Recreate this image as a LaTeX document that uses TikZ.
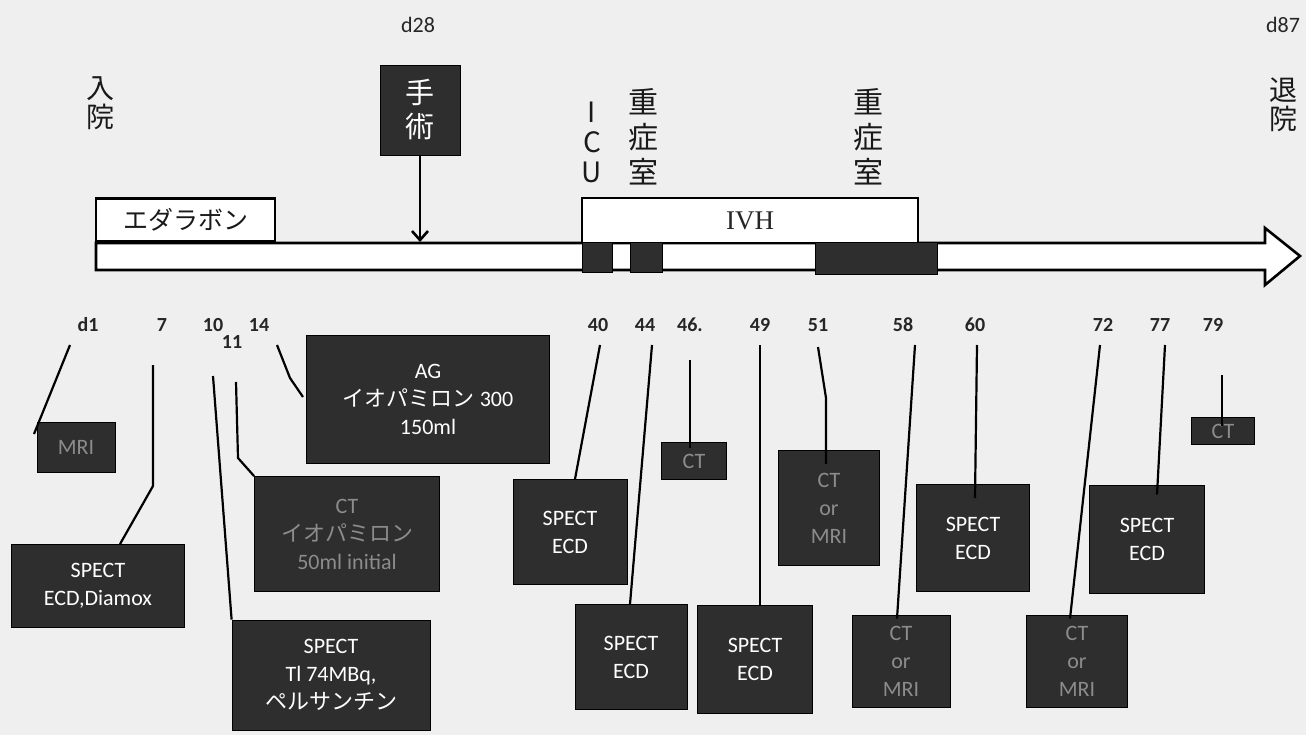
\documentclass[tikz,border=0pt]{standalone}
\usepackage{fontspec}
\setmainfont{Carlito}
\newfontfamily\jp{Noto Sans CJK JP}
\newfontfamily\srf{Liberation Serif}
\usetikzlibrary{arrows.meta}
\definecolor{bg}{HTML}{EFEFEF}
\definecolor{boxgray}{HTML}{2E2E2E}
\definecolor{faint}{HTML}{8C8C8C}
\begin{document}
\begin{tikzpicture}[x=1pt,y=-1pt,
  dbox/.style={draw=black,line width=0.8pt,fill=boxgray,text=white,inner sep=0pt,align=center,font=\fontsize{22}{28}\selectfont},
  fbox/.style={dbox,text=faint},
  day/.style={font=\fontsize{20}{20}\selectfont\bfseries,text=black!85,inner sep=0pt},
  vlab/.style={font=\jp\fontsize{30}{35}\selectfont,text=black!90,align=center,inner sep=0pt},
  conn/.style={draw=black,line width=2.2pt},
  bar/.style={fill=boxgray,draw=black,line width=1pt}]
\useasboundingbox (0,0) rectangle (1306,735);
\fill[bg] (0,0) rectangle (1306,735);

% top labels
\node[vlab,font=\jp\fontsize{28}{29}\selectfont] (nyuin) at (100,103) {入\\院};
\node[font=\fontsize{22}{22}\selectfont,text=black!85,inner sep=0pt] (d28) at (418,25) {d28};
\node[dbox,minimum width=80,minimum height=90,font=\jp\fontsize{29}{34}\selectfont] (surg) at (420,110) {手\\術};
\node[font=\fontsize{22}{22}\selectfont,text=black!85,inner sep=0pt] (d87) at (1283,25) {d87};
\node[vlab,font=\jp\fontsize{28}{29}\selectfont] (taiin) at (1283,105) {退\\院};
\node[font=\jp\fontsize{28}{30}\selectfont,text=black!90,align=center,inner sep=0pt] (icu) at (592,142) {I\\C\\U};
\node[vlab] (jusho1) at (643,137) {重\\症\\室};
\node[vlab] (jusho2) at (868,137) {重\\症\\室};

% timeline arrow
\draw[line width=2.6pt,fill=white,line join=miter] (96,243) -- (1265,243) -- (1265,228) -- (1300,256) -- (1265,285) -- (1265,270) -- (96,270) -- cycle;
\node[draw=black,line width=2.4pt,fill=white,minimum width=179,minimum height=43,inner sep=0pt,font=\jp\fontsize{25}{26}\selectfont,text=black!90] (edara) at (185.5,220) {エダラボン};
\node[draw=black,line width=2.2pt,fill=white,minimum width=336,minimum height=45,inner sep=0pt,font=\srf\fontsize{27}{28}\selectfont,text=black!85] (ivh) at (750,220.5) {IVH};
\fill[bar] (582,243) rectangle (612,273);
\fill[bar] (630,243) rectangle (662,273);
\fill[bar] (815,243) rectangle (937,275);
\coordinate (surgtip) at (420,242);
\draw[line width=2.6pt,-{Straight Barb[length=9pt,width=16pt,line width=2.6pt]}] (surg.south) -- (surgtip);

% day labels
\node[day] (t1) at (88,325) {d1};
\node[day] (t7) at (162,325) {7};
\node[day] (t10) at (213,325) {10};
\node[day] (t14) at (259,325) {14};
\node[day] (t11) at (232,342) {11};
\node[day] (t40) at (598,325) {40};
\node[day] (t44) at (645,325) {44};
\node[day] (t46) at (690,325) {46.};
\node[day] (t49) at (760,325) {49};
\node[day] (t51) at (818,325) {51};
\node[day] (t58) at (903,325) {58};
\node[day] (t60) at (975,325) {60};
\node[day] (t72) at (1103,325) {72};
\node[day] (t77) at (1160,325) {77};
\node[day] (t79) at (1213,325) {79};

% boxes
\node[fbox,minimum width=78,minimum height=50] (b1) at (76,447) {MRI};
\node[dbox,minimum width=173,minimum height=83] (b7) at (98,586) {SPECT\\ECD,Diamox};
\node[fbox,minimum width=185,minimum height=115] (b11) at (347,534) {CT\\{\jp イオパミロン}\\50ml initial};
\node[dbox,minimum width=198,minimum height=110] (b10) at (331,675) {SPECT\\Tl 74MBq,\\{\jp ペルサンチン}};
\node[dbox,minimum width=243,minimum height=128] (b14) at (428,399) {AG\\{\jp イオパミロン} 300\\150ml};
\node[dbox,minimum width=114,minimum height=105] (b40) at (570,532) {SPECT\\ECD};
\node[dbox,minimum width=112,minimum height=105] (b44) at (631,657) {SPECT\\ECD};
\node[fbox,minimum width=65,minimum height=37] (b46) at (694,461) {CT};
\node[dbox,minimum width=115,minimum height=108] (b49) at (755,659) {SPECT\\ECD};
\node[fbox,minimum width=101,minimum height=115] (b51) at (829,508) {CT\\or\\MRI};
\node[fbox,minimum width=98,minimum height=92] (b58) at (901,661) {CT\\or\\MRI};
\node[dbox,minimum width=113,minimum height=107] (b60) at (973,538) {SPECT\\ECD};
\node[fbox,minimum width=101,minimum height=92] (b72) at (1077,661) {CT\\or\\MRI};
\node[dbox,minimum width=115,minimum height=108] (b77) at (1147,539) {SPECT\\ECD};
\node[fbox,minimum width=63,minimum height=27] (b79) at (1223,431) {CT};

% connectors
\coordinate (s1) at (70,345); \coordinate (e1) at (34,434);
\draw[conn] (s1) -- (e1);
\coordinate (s7) at (153,365); \coordinate (m7) at (153,486);
\draw[conn] (s7) -- (m7) -- (b7.north -| 120,0);
\coordinate (s10) at (213,376);
\draw[conn] (s10) -- (b10.north west);
\coordinate (s11) at (236,382); \coordinate (m11) at (238,458);
\draw[conn] (s11) -- (m11) -- (b11.north west);
\coordinate (s14) at (277,345); \coordinate (m14) at (290,378); \coordinate (e14) at (303,397);
\draw[conn] (s14) -- (m14) -- (e14);
\coordinate (s40) at (600,345);
\draw[conn] (s40) -- (b40.north -| 575,0);
\coordinate (s44) at (652,345);
\draw[conn] (s44) -- (b44.north -| 630,0);
\coordinate (s46) at (690,360);
\draw[conn] (s46) -- ([yshift=-6pt]b46.north -| 690,0);
\coordinate (s49) at (760,345);
\draw[conn] (s49) -- (b49.north -| 760,0);
\coordinate (s51) at (818,347); \coordinate (m51) at (826,398);
\draw[conn] (s51) -- (m51) -- ([yshift=-14pt]b51.north -| 826,0);
\coordinate (s58) at (915,345);
\draw[conn] (s58) -- ([yshift=-4pt]b58.north -| 897,0);
\coordinate (s60) at (977,345);
\draw[conn] (s60) -- ([yshift=-14pt]b60.north -| 975,0);
\coordinate (s72) at (1100,345);
\draw[conn] (s72) -- ([yshift=-4pt]b72.north -| 1070,0);
\coordinate (s77) at (1165,345);
\draw[conn] (s77) -- ([yshift=-10pt]b77.north -| 1157,0);
\coordinate (s79) at (1222,375);
\draw[conn] (s79) -- ([yshift=-9pt]b79.north -| 1222,0);
\end{tikzpicture}
\end{document}
